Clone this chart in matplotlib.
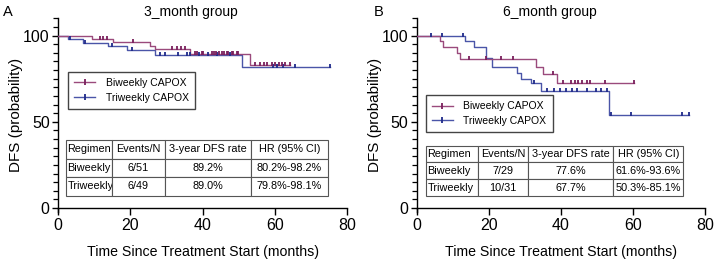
import matplotlib
matplotlib.use("Agg")
import matplotlib.pyplot as plt
import numpy as np
from matplotlib.lines import Line2D
from matplotlib.ticker import MultipleLocator

plt.rcParams["font.family"] = ["Liberation Sans", "DejaVu Sans"]

# ---- panel A: 3_month group ----
a_bi_times = [9.3, 15.3, 25.5, 26.7, 36.5, 53.2]
a_bi_surv = [98.0, 96.1, 94.1, 92.0, 89.2, 83.2]
a_bi_end = 64.3
a_bi_cens = [11.6, 12.5, 13.6, 20.8, 31.5, 32.9, 34.0, 35.2, 38.0, 38.4, 39.8,
             40.2, 42.6, 43.2, 43.8, 44.4, 45.3, 46.0, 46.7, 47.1, 48.0, 48.5,
             49.5, 49.9, 54.6, 56.0, 56.9, 57.8, 59.2, 60.1, 61.0, 61.9, 62.8, 64.3]

a_tri_times = [2.7, 7.0, 13.9, 19.0, 26.9, 50.9]
a_tri_surv = [98.0, 95.9, 93.8, 91.6, 89.0, 81.6]
a_tri_end = 75.3
a_tri_cens = [3.2, 7.6, 14.9, 20.4, 28.3, 29.6, 33.3, 35.6, 36.6, 39.0, 41.5,
              44.0, 47.5, 59.6, 60.5, 62.3, 65.6, 75.3]

a_table = [["Regimen", "Events/N", "3-year DFS rate", "HR (95% CI)"],
           ["Biweekly", "6/51", "89.2%", "80.2%-98.2%"],
           ["Triweekly", "6/49", "89.0%", "79.8%-98.1%"]]

# ---- panel B: 6_month group ----
b_bi_times = [6.4, 7.3, 11.3, 12.0, 33.1, 34.9, 39.0]
b_bi_surv = [96.6, 93.1, 89.7, 86.2, 81.9, 77.6, 72.7]
b_bi_end = 60.2
b_bi_cens = [14.5, 19.3, 23.3, 26.8, 37.8, 40.6, 42.9, 43.9, 44.8, 45.7, 47.1,
             48.1, 52.2, 60.2]

b_tri_times = [13.5, 16.0, 19.3, 21.0, 27.7, 29.0, 31.8, 34.5, 53.2]
b_tri_surv = [96.8, 93.5, 87.1, 82.0, 78.0, 75.0, 72.5, 67.7, 54.2]
b_tri_end = 75.6
b_tri_cens = [4.0, 7.0, 12.8, 32.5, 36.1, 38.2, 39.7, 41.4, 43.0, 44.5, 47.1,
              49.7, 51.0, 52.7, 53.8, 59.3, 73.5, 75.6]

b_table = [["Regimen", "Events/N", "3-year DFS rate", "HR (95% CI)"],
           ["Biweekly", "7/29", "77.6%", "61.6%-93.6%"],
           ["Triweekly", "10/31", "67.7%", "50.3%-85.1%"]]

c_bi_line, c_bi_tick = "#9a4a7c", "#7a1f5c"
c_tri_line, c_tri_tick = "#4a55a8", "#1f2a8a"
cens_marker = [(0, -0.25), (0, 1)]

fig = plt.figure(figsize=(7.16, 2.69), dpi=100)
ax_a = fig.add_axes([0.081, 0.212, 0.404, 0.72])
ax_b = fig.add_axes([0.582, 0.212, 0.403, 0.72])

YMIN, YMAX = -2.3, 110


def km(ax, times, surv, end, cens, c_line, c_tick):
    xs = np.r_[0, times, end]
    ys = np.r_[100, surv, surv[-1]]
    ax.step(xs, ys, where="post", color=c_line, lw=1.0, zorder=3)
    idx = np.searchsorted(np.r_[0, times], cens, side="right") - 1
    cy = np.r_[100, surv][idx]
    ax.plot(cens, cy, ls="none", marker=cens_marker, markersize=5,
            mew=1.3, color=c_tick, zorder=4)


def to_ax(v):
    return (v - YMIN) / (YMAX - YMIN)


panels = [
    (ax_a, "3_month group", "A", -0.19, a_bi_times, a_bi_surv, a_bi_end, a_bi_cens,
     a_tri_times, a_tri_surv, a_tri_end, a_tri_cens, a_table,
     (0.035, to_ax(79)), (0.028, to_ax(7.2), 0.906, to_ax(39.4) - to_ax(7.2)),
     [45.7, 53.3, 85.7, 77.3]),
    (ax_b, "6_month group", "B", -0.15, b_bi_times, b_bi_surv, b_bi_end, b_bi_cens,
     b_tri_times, b_tri_surv, b_tri_end, b_tri_cens, b_table,
     (0.032, to_ax(65.5)), (0.032, to_ax(7.0), 0.892, to_ax(36.2) - to_ax(7.0)),
     [51.7, 50.0, 85.0, 70.0]),
]

for (ax, title, letter, letter_x, bt, bs, be, bc, tt, ts, te, tc, table,
     leg_xy, tab_bbox, col_w) in panels:
    km(ax, tt, ts, te, tc, c_tri_line, c_tri_tick)
    km(ax, bt, bs, be, bc, c_bi_line, c_bi_tick)

    ax.set_xlim(0, 80)
    ax.set_ylim(YMIN, YMAX)
    ax.spines["top"].set_visible(False)
    ax.spines["right"].set_visible(False)
    ax.spines["bottom"].set_position(("data", 0))
    for s in ("left", "bottom"):
        ax.spines[s].set_linewidth(1.0)
    ax.set_xticks([0, 20, 40, 60, 80])
    ax.set_yticks([0, 50, 100])
    ax.yaxis.set_minor_locator(MultipleLocator(5))
    ax.tick_params(axis="both", labelsize=11.5, width=1.0)
    ax.tick_params(axis="x", length=5, pad=2)
    ax.tick_params(axis="y", which="major", length=4.5, pad=1.5)
    ax.tick_params(axis="y", which="minor", length=3.5, width=0.9)
    ax.set_xlabel("Time Since Treatment Start (months)", fontsize=10.2,
                  labelpad=9)
    ax.set_ylabel("DFS (probability)", fontsize=11, labelpad=0)
    ax.text(0.46, 1.035, title, transform=ax.transAxes, ha="center",
            va="center", fontsize=10)
    ax.text(letter_x, 1.035, letter, transform=ax.transAxes, ha="left",
            va="center", fontsize=10.5)

    handles = [
        Line2D([0], [0], color=c_bi_line, lw=1.0, marker="|", markersize=5,
               mew=1.3, mec=c_bi_tick, label="Biweekly CAPOX"),
        Line2D([0], [0], color=c_tri_line, lw=1.0, marker="|", markersize=5,
               mew=1.3, mec=c_tri_tick, label="Triweekly CAPOX"),
    ]
    leg = ax.legend(handles=handles, loc="upper left", bbox_to_anchor=leg_xy,
                    borderaxespad=0, fontsize=7.5, numpoints=1,
                    fancybox=False, framealpha=1.0, edgecolor="#444444",
                    handlelength=1.95, handletextpad=1.05, labelspacing=0.45,
                    borderpad=0.6)
    leg.get_frame().set_linewidth(1.0)

    tab = ax.table(cellText=table, bbox=list(tab_bbox),
                   colWidths=[w / sum(col_w) for w in col_w], cellLoc="center")
    tab.auto_set_font_size(False)
    tab.set_fontsize(7.8)
    for (r, c), cell in tab.get_celld().items():
        cell.set_edgecolor("#555555")
        cell.set_linewidth(0.8)
        if c == 0:
            cell.set_text_props(ha="left")
            cell.PAD = 0.03

fig.savefig("out.png", dpi=100, facecolor="white")
